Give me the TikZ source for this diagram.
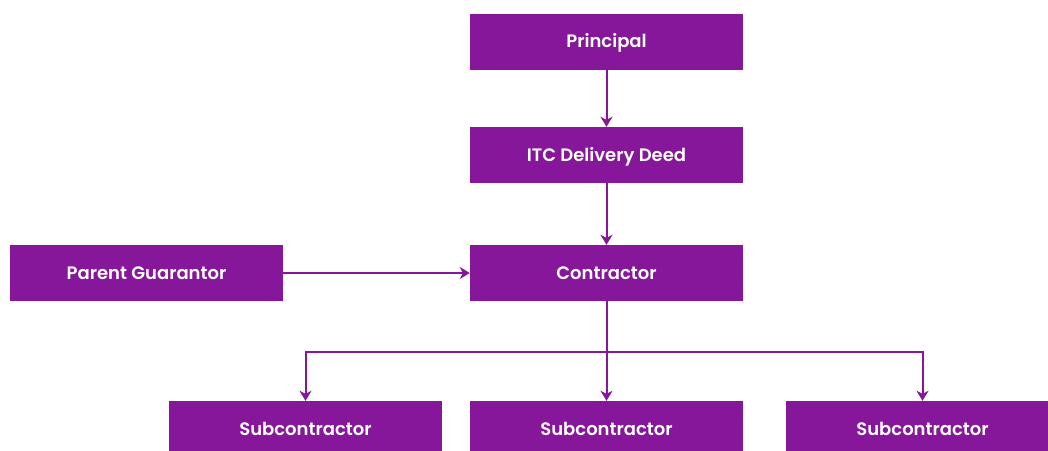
\documentclass[tikz,border=0pt]{standalone}
\usepackage{fontspec}
\setmainfont{Poppins}[BoldFont={* SemiBold}]
\usepackage{tikz}
\usetikzlibrary{arrows.meta}
\definecolor{vicpurple}{RGB}{135,23,154}
\tikzset{
  party/.style={fill=vicpurple, text=white, font=\bfseries\fontsize{18}{21}\selectfont,
    minimum width=273pt, minimum height=56pt, inner sep=0pt,
    text height=12.6pt, text depth=0pt},
  link/.style={draw=vicpurple, line width=2pt, -{Stealth[inset=3pt,length=10pt,width=12pt]}}
}

\begin{document}
\begin{tikzpicture}[x=1pt,y=-1pt]
            \useasboundingbox (0,0) rectangle (1048,450);
            \clip (0,0) rectangle (1048,450);

            \node (principal) at (606.5,41.5) [party] {Principal};
            \node (deed) at (606.5,155) [party] {ITC Delivery Deed};
            \node (contractor) at (606.5,273) [party] {Contractor};
            \node (guarantor) at (146.5,273) [party] {Parent Guarantor};

            % bottom row runs past the lower edge
            \node (sub1) at (305.5,429) [party] {Subcontractor};
            \node (sub2) at (606.5,429) [party] {Subcontractor};
            \node (sub3) at (922.5,429) [party] {Subcontractor};

            \coordinate (split) at (606.5,352);

            \draw[link] (principal) to (deed);
            \draw[link] (deed) to (contractor);
            \draw[link] (guarantor) to (contractor);
            \draw[link] (contractor.south) to (sub2);
            \draw[link] (split) -| (sub1);
            \draw[link] (split) -| (sub3);
          \end{tikzpicture}
\end{document}
